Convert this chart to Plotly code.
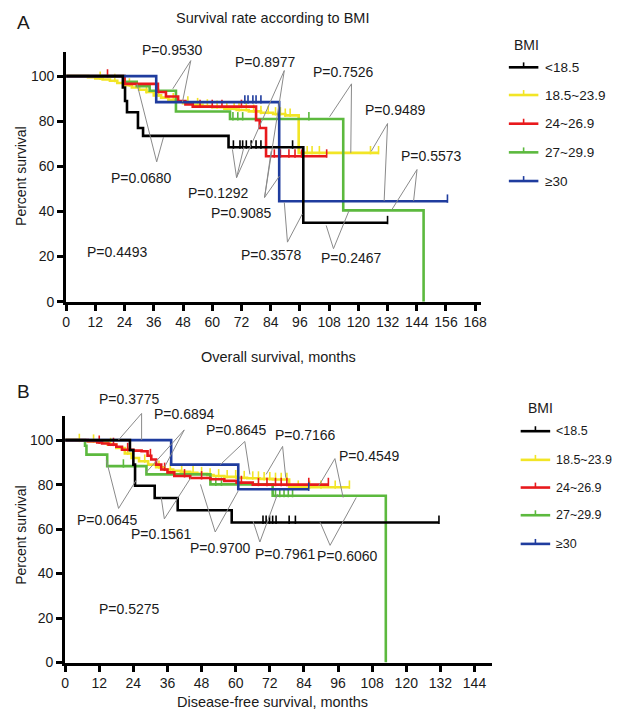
import plotly.graph_objects as go

W, H = 620, 711
FONT = "Liberation Sans, Arial, Helvetica, sans-serif"
TXT = "#1a1a1a"

# ---------------- data ----------------
groups = ["<18.5", "18.5~23.9", "24~26.9", "27~29.9", "≥30"]
colors = ["#000000", "#f2e526", "#e8191c", "#5cb93e", "#1f3c9e"]

# Panel A: overall survival (months, percent)
A_black_t = [0, 23.3, 24.2, 25, 29.5, 31.6, 66.7, 97.4, 132]
A_black_s = [100, 95, 89, 84, 77, 73.5, 68.5, 35, 35]
A_black_c = [68.7, 71.4, 72.5, 74, 76, 78, 80, 93, 132]

A_yellow_t = [0, 9, 12, 15, 18, 21, 24, 27, 30, 33, 36, 39, 42, 45, 48, 52, 56, 60, 65, 70, 75, 80, 85, 90, 95.5, 128.3]
A_yellow_s = [100, 99.5, 99, 98.5, 98, 97, 96, 95, 94, 93, 91.5, 90.5, 89.5, 88.8, 88, 87.3, 86.7, 86.2, 85.6, 85, 84.4, 83.8, 83.2, 82.6, 66, 66]
A_yellow_c = [14, 20, 26, 33, 38, 44, 50, 54, 58, 62, 66, 69, 71, 74, 77, 80, 83, 86, 88, 90, 92, 99, 101, 104, 125, 128.3]

A_red_t = [0, 24, 37.7, 41, 46, 49, 52, 78, 79.5, 82.1, 107]
A_red_s = [100, 96.6, 93, 91, 89, 87.5, 86.5, 80.5, 77, 64.5, 64.5]
A_red_c = [17, 55, 60, 64, 72, 85.5, 88, 91.5, 94, 96.7, 107]

A_green_t = [0, 24, 29, 34.3, 45.1, 67.3, 113.8, 146.8]
A_green_s = [100, 97.5, 95.5, 93.5, 84.3, 81, 40.5, 0]
A_green_c = [68.5, 70.5, 72.5, 99.7]

A_blue_t = [0, 37, 87.5, 156.6]
A_blue_s = [100, 88.5, 44.5, 44.5]
A_blue_c = [73.4, 74.7, 76.7, 78, 80, 156.6]

# Panel B: disease-free survival
B_black_t = [0, 22.8, 24, 24.6, 31.5, 39.6, 58.6, 131.5]
B_black_s = [100, 95.5, 89, 79.5, 74, 68.5, 63, 63]
B_black_c = [69.6, 70.7, 71.9, 73, 74.2, 78.8, 81, 131.5]

B_yellow_t = [0, 4, 8, 12, 15, 18, 21, 23.4, 26, 29.2, 32, 35, 38, 40.7, 44, 46.5, 50, 52.2, 56, 60.3, 64, 68.4, 73, 78.8, 100]
B_yellow_s = [100, 99.8, 99.5, 99.2, 98, 96.5, 94, 92, 90.5, 89, 87.8, 86.8, 86.2, 85.8, 85.3, 84.9, 84.3, 83.9, 83.5, 83.1, 82.9, 82.6, 82.3, 78.8, 78.8]
B_yellow_c = [5, 10, 16, 22, 28, 33, 37, 41, 45, 48, 51, 54, 57, 60, 63, 66, 68, 70, 72, 74, 76, 78, 82, 86, 90, 95, 100]

B_red_t = [0, 8, 11.3, 13, 15.3, 18, 20, 24, 26.9, 29, 30.3, 32, 33.8, 36, 38.4, 44, 51.1, 56, 60.3, 66, 92.6]
B_red_s = [100, 99.5, 99, 98.5, 98, 97, 95.7, 95.3, 95, 93, 91.3, 89, 86.8, 85.5, 83.9, 83, 82.4, 81.7, 80.9, 80, 80]
B_red_c = [12, 17, 22, 30, 35, 42, 48, 62, 68, 71, 74, 76, 78, 85.7, 92.6]

B_green_t = [0, 7, 7.5, 14.8, 28.6, 51.1, 73, 112.8]
B_green_s = [100, 97.5, 93.5, 88.3, 84.6, 80.1, 75, 0]
B_green_c = [20.5, 53, 55, 74, 75.5, 77, 78.5, 80]

B_blue_t = [0, 37.3, 60.9, 85.7]
B_blue_s = [100, 89, 77.9, 77.9]
B_blue_c = [85.7]

A_ticks_x = list(range(0, 169, 12))
B_ticks_x = list(range(0, 145, 12))
ticks_y = [0, 20, 40, 60, 80, 100]

# P-value labels: text, text x, text y, apex x, apex y, end1 x, end1 y, end2 x, end2 y (data units)
A_p_text = ["P=0.9530", "P=0.8977", "P=0.7526", "P=0.9489", "P=0.5573", "P=0.0680", "P=0.1292", "P=0.9085", "P=0.3578", "P=0.2467", "P=0.4493"]
A_p_tx = [43.6, 82.0, 113.8, 135.4, 150.2, 30.9, 62.6, 72.0, 84.2, 117.2, 20.9]
A_p_ty = [111.4, 106.1, 101.8, 85.0, 64.5, 55.0, 48.4, 39.2, 20.6, 19.2, 22.0]
A_p_ax = [51.2, 89.6, 117.2, 132.0, 144.1, 37.2, 70.0, 81.5, 90.9, 109.8, None]
A_p_ay = [106.9, 102.5, 96.6, 79.0, 58.6, 62.0, 55.0, 46.2, 26.4, 23.5, None]
A_p_e1x = [43.8, 70.0, 108.2, 125.3, 142.7, 29.1, 68.3, 84.2, 89.6, 106.8, None]
A_p_e1y = [94.4, 55.0, 82.0, 66.7, 44.7, 96.6, 67.5, 66.7, 44.0, 33.8, None]
A_p_e2x = [47.8, 81.5, 116.9, 130.6, 133.7, 40.0, 73.0, 87.6, 97.0, 116.2, None]
A_p_e2y = [88.6, 46.2, 66.0, 44.7, 40.7, 73.0, 68.5, 55.7, 38.9, 40.4, None]

B_p_text = ["P=0.3775", "P=0.6894", "P=0.8645", "P=0.7166", "P=0.4549", "P=0.0645", "P=0.1561", "P=0.9700", "P=0.7961", "P=0.6060", "P=0.5275"]
B_p_tx = [22.8, 41.9, 60.3, 84.5, 107.0, 14.8, 33.8, 54.6, 77.6, 99.5, 22.8]
B_p_ty = [118.7, 111.6, 104.6, 102.4, 92.7, 63.9, 57.9, 51.3, 49.0, 47.9, 23.9]
B_p_ax = [26.9, 41.9, 63.2, 76.5, 94.9, 18.8, 34.9, 52.8, 68.5, 93.2, None]
B_p_ay = [112.0, 104.6, 99.4, 97.2, 91.7, 69.3, 64.6, 58.7, 54.2, 52.7, None]
B_p_e1x = [18.8, 28.5, 54.6, 70.7, 89.2, 14.5, 33.8, 47.6, 66.1, 89.7, None]
B_p_e1y = [100.1, 85.5, 89.0, 84.6, 79.4, 91.0, 74.2, 80.1, 63.6, 63.1, None]
B_p_e2x = [26.9, 35.0, 65.0, 77.6, 97.8, 25.0, 44.2, 60.9, 74.7, 102.4, None]
B_p_e2y = [100.1, 88.0, 84.6, 83.1, 74.2, 82.0, 83.1, 77.2, 75.7, 74.2, None]

# ---------------- layout geometry ----------------
def px(x):
    return x / W

def py(y):
    return 1 - y / H

A_xdom, A_xrng = [px(55), px(477)], 170.5
A_ydom, A_yrng = [py(297), py(45)], 110.5
B_xdom, B_xrng = [px(54), px(488)], 150.2
B_ydom, B_yrng = [py(662), py(413)], 110.7

def step_at(t, times, surv):
    v = surv[0]
    for ti, si in zip(times, surv):
        if ti <= t:
            v = si
        else:
            break
    return v

fig = go.Figure()

def add_curves(series, xa, ya):
    for (t, s, c), col in series:
        fig.add_trace(go.Scatter(x=t, y=s, mode="lines", line=dict(color=col, width=2.6, shape="hv"),
                                 xaxis=xa, yaxis=ya, showlegend=False, hoverinfo="skip", cliponaxis=False))
        cy = [step_at(ct, t, s) + 1.2 for ct in c]
        fig.add_trace(go.Scatter(x=c, y=cy, mode="markers",
                                 marker=dict(symbol="line-ns-open", size=6, color=col,
                                             line=dict(width=1.6, color=col)),
                                 xaxis=xa, yaxis=ya, showlegend=False, hoverinfo="skip", cliponaxis=False))

# draw order: yellow, green, red, blue, black
A_series = [((A_yellow_t, A_yellow_s, A_yellow_c), colors[1]),
            ((A_green_t, A_green_s, A_green_c), colors[3]),
            ((A_red_t, A_red_s, A_red_c), colors[2]),
            ((A_blue_t, A_blue_s, A_blue_c), colors[4]),
            ((A_black_t, A_black_s, A_black_c), colors[0])]
B_series = [((B_yellow_t, B_yellow_s, B_yellow_c), colors[1]),
            ((B_green_t, B_green_s, B_green_c), colors[3]),
            ((B_red_t, B_red_s, B_red_c), colors[2]),
            ((B_blue_t, B_blue_s, B_blue_c), colors[4]),
            ((B_black_t, B_black_s, B_black_c), colors[0])]
add_curves(A_series, "x", "y")
add_curves(B_series, "x2", "y2")

shapes = []
annotations = []

def add_pvals(texts, tx, ty, ax, ay, e1x, e1y, e2x, e2y, xdom, xrng, ydom, yrng):
    fx = lambda v: xdom[0] + v / xrng * (xdom[1] - xdom[0])
    fy = lambda v: ydom[0] + v / yrng * (ydom[1] - ydom[0])
    for i, txt in enumerate(texts):
        annotations.append(dict(x=fx(tx[i]), y=fy(ty[i]), xref="paper", yref="paper", text=txt, showarrow=False,
                                font=dict(family=FONT, size=14, color=TXT), xanchor="center", yanchor="middle"))
        if ax[i] is None:
            continue
        for ex, ey in ((e1x[i], e1y[i]), (e2x[i], e2y[i])):
            shapes.append(dict(type="line", xref="paper", yref="paper", x0=fx(ax[i]), y0=fy(ay[i]),
                               x1=fx(ex), y1=fy(ey), line=dict(color="#8a8a8a", width=1)))

add_pvals(A_p_text, A_p_tx, A_p_ty, A_p_ax, A_p_ay, A_p_e1x, A_p_e1y, A_p_e2x, A_p_e2y,
          A_xdom, A_xrng, A_ydom, A_yrng)
add_pvals(B_p_text, B_p_tx, B_p_ty, B_p_ax, B_p_ay, B_p_e1x, B_p_e1y, B_p_e2x, B_p_e2y,
          B_xdom, B_xrng, B_ydom, B_yrng)

# manual legends
def add_legend(title_xy, x0, x1, ys, tx, fs):
    annotations.append(dict(x=px(title_xy[0]), y=py(title_xy[1]), xref="paper", yref="paper", text="BMI",
                            showarrow=False, font=dict(family=FONT, size=14, color=TXT),
                            xanchor="center", yanchor="middle"))
    for g, col, yy in zip(groups, colors, ys):
        shapes.append(dict(type="line", xref="paper", yref="paper", x0=px(x0), x1=px(x1), y0=py(yy), y1=py(yy),
                           line=dict(color=col, width=2.6)))
        xm = (x0 + x1) / 2
        shapes.append(dict(type="line", xref="paper", yref="paper", x0=px(xm), x1=px(xm), y0=py(yy), y1=py(yy - 5),
                           line=dict(color=col, width=1.6)))
        annotations.append(dict(x=px(tx), y=py(yy), xref="paper", yref="paper", text=g, showarrow=False,
                                font=dict(family=FONT, size=fs, color=TXT), xanchor="left", yanchor="middle"))

add_legend((523, 37), 505, 535, [60, 88, 117, 146, 175], 540, 13.5)
add_legend((537, 405), 517, 547, [428, 457, 485, 513, 542], 551, 12.5)

# panel letters, titles
for txt, x, y, sz in [("A", 12, 15, 19), ("B", 12, 388, 19),
                      ("Survival rate according to BMI", 265, 10, 14.5),
                      ("Overall survival, months", 271, 353, 14.5),
                      ("Disease-free survival, months", 265, 702, 14.5)]:
    annotations.append(dict(x=px(x), y=py(y), xref="paper", yref="paper", text=txt, showarrow=False,
                            font=dict(family=FONT, size=sz, color=TXT), xanchor="center", yanchor="middle"))
for y in (170, 533):
    annotations.append(dict(x=px(9), y=py(y), xref="paper", yref="paper", text="Percent survival", showarrow=False,
                            textangle=-90, font=dict(family=FONT, size=14, color=TXT),
                            xanchor="center", yanchor="middle"))

axis_common = dict(showline=True, linecolor="black", linewidth=3, ticks="outside", ticklen=6, tickwidth=2.5,
                   tickcolor="black", showgrid=False, zeroline=False,
                   tickfont=dict(family=FONT, size=14, color=TXT), fixedrange=True)

fig.update_layout(
    width=W, height=H, margin=dict(l=0, r=0, t=0, b=0),
    paper_bgcolor="white", plot_bgcolor="white",
    xaxis=dict(domain=A_xdom, range=[0, A_xrng], anchor="y", tickvals=A_ticks_x, **axis_common),
    yaxis=dict(domain=A_ydom, range=[0, A_yrng], anchor="x", tickvals=ticks_y, **axis_common),
    xaxis2=dict(domain=B_xdom, range=[0, B_xrng], anchor="y2", tickvals=B_ticks_x, **axis_common),
    yaxis2=dict(domain=B_ydom, range=[0, B_yrng], anchor="x2", tickvals=ticks_y, **axis_common),
    shapes=shapes, annotations=annotations, showlegend=False,
)

fig.write_html("out.html")
